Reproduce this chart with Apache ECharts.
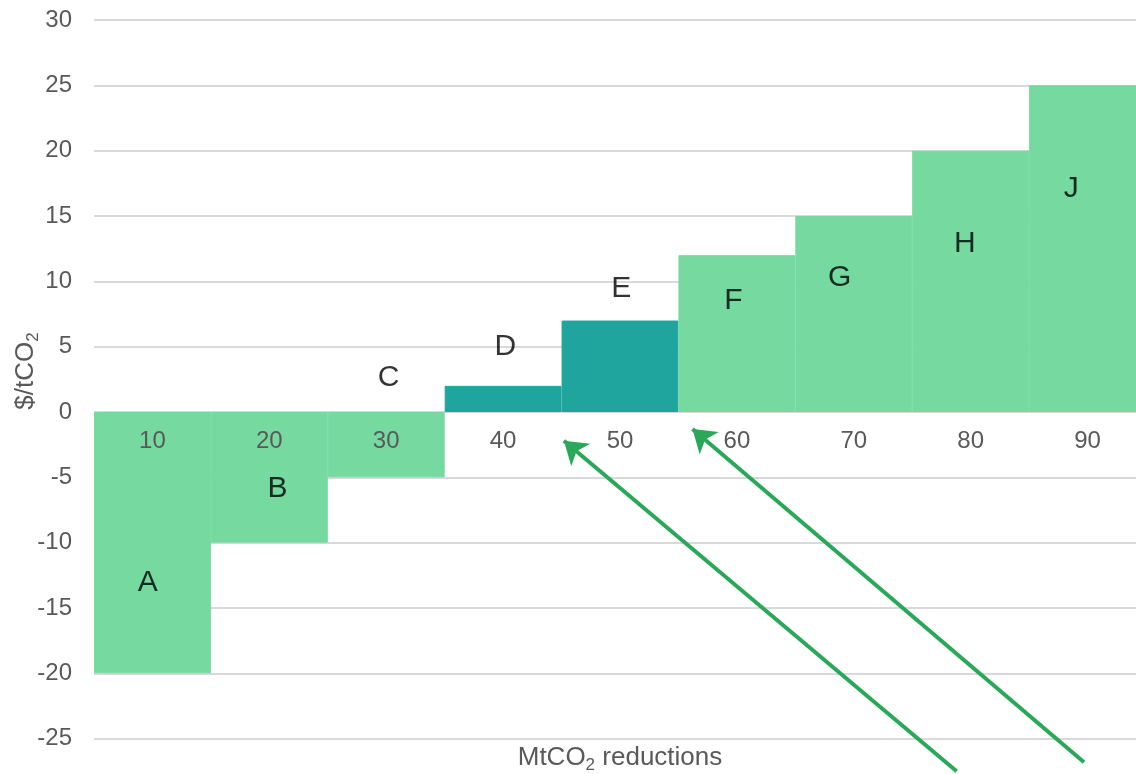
<!DOCTYPE html>
<html>
<head>
<meta charset="utf-8">
<script src="https://cdn.jsdelivr.net/npm/echarts@6/dist/echarts.min.js"></script>
<style>
  html, body { margin: 0; padding: 0; background: #ffffff; }
  #chart { width: 1136px; height: 774px; }
</style>
</head>
<body>
<div id="chart"></div>
<script>
// Abatement cost steps: one 10 MtCO2 block per measure
const categories = ['10', '20', '30', '40', '50', '60', '70', '80', '90'];
const costs = [-20, -10, -5, 2, 7, 12, 15, 20, 25];
const highlighted = [false, false, false, true, true, false, false, false, false];

// Measure letters, placed on the continuous MtCO2 scale
const letterNames = ['A', 'B', 'C', 'D', 'E', 'F', 'G', 'H', 'J'];
const letterX = [9.6, 20.7, 30.2, 40.2, 50.1, 59.7, 68.8, 79.5, 88.6];
const letterY = [-13.1, -5.9, 2.6, 5.0, 9.4, 8.5, 10.3, 12.9, 17.1];

// Pointer arrows: [startX, startY, tipX, tipY] in MtCO2 / $ units
const arrows = [
  [78.8, -27.5, 45.2, -2.2],
  [89.7, -26.8, 56.2, -1.3]
];

const yTicks = { min: -30, max: 30, step: 5 };

const LIGHT = '#75d9a0';
const DARK = '#20a59e';
const ARROW = '#2aa85a';
const FONT = 'Liberation Sans, Arial, sans-serif';

const GRID = { left: 94, right: -10, top: 20, bottom: -30 };
const CHART_H = 774;

const chart = echarts.init(document.getElementById('chart'), null, { renderer: 'canvas' });

// Pixel distance from the bottom of the plot up to the zero line, so the
// category labels sit just under y = 0
const plotH = CHART_H - GRID.top - GRID.bottom;
const zeroOffset = plotH * (0 - yTicks.min) / (yTicks.max - yTicks.min);

chart.setOption({
  animation: false,
  backgroundColor: '#ffffff',
  grid: Object.assign({ containLabel: false, outerBoundsMode: 'none' }, GRID),
  xAxis: [
    {
      type: 'category',
      data: categories,
      boundaryGap: true,
      position: 'bottom',
      offset: -zeroOffset,
      axisLine: { show: false, onZero: false },
      axisTick: { show: false },
      axisLabel: { color: '#595959', fontSize: 24, fontFamily: FONT, margin: 17 },
      splitLine: { show: false },
      z: 10
    },
    {
      type: 'value',
      min: 5,
      max: 95,
      show: false
    }
  ],
  yAxis: {
    type: 'value',
    min: yTicks.min,
    max: yTicks.max,
    interval: yTicks.step,
    axisLine: { show: false },
    axisTick: { show: false },
    axisLabel: { color: '#595959', fontSize: 24, fontFamily: FONT, margin: 22 },
    splitLine: { show: true, lineStyle: { color: '#d9d9d9', width: 2 } }
  },
  graphic: [
    {
      type: 'text',
      x: 620,
      y: 758,
      style: {
        text: '{m|MtCO}{s|2}{m| reductions}',
        align: 'center',
        verticalAlign: 'middle',
        rich: {
          m: { fontSize: 26, fontFamily: FONT, fill: '#595959' },
          s: { fontSize: 17, fontFamily: FONT, fill: '#595959', padding: [14, 0, 0, 0] }
        }
      }
    },
    {
      type: 'text',
      x: 26,
      y: 371,
      rotation: Math.PI / 2,
      style: {
        text: '{m|$/tCO}{s|2}',
        align: 'center',
        verticalAlign: 'middle',
        rich: {
          m: { fontSize: 26, fontFamily: FONT, fill: '#595959' },
          s: { fontSize: 17, fontFamily: FONT, fill: '#595959', padding: [14, 0, 0, 0] }
        }
      }
    }
  ],
  series: [
    {
      type: 'bar',
      data: costs.map((v, i) => {
        const c = highlighted[i] ? DARK : LIGHT;
        return { value: v, itemStyle: { color: c, borderColor: c, borderWidth: 1 } };
      }),
      barWidth: '100%',
      barCategoryGap: 0,
      z: 2
    },
    {
      type: 'scatter',
      xAxisIndex: 1,
      symbolSize: 0,
      data: letterNames.map((n, i) => ({ value: [letterX[i], letterY[i]], name: n })),
      label: {
        show: true,
        position: 'inside',
        formatter: '{b}',
        color: '#000000',
        fontSize: 30,
        fontFamily: FONT
      },
      z: 5
    },
    {
      type: 'line',
      xAxisIndex: 1,
      data: [],
      markLine: {
        silent: true,
        animation: false,
        label: { show: false },
        lineStyle: { color: ARROW, width: 4, type: 'solid' },
        data: arrows.map(a => [
          { coord: [a[0], a[1]], symbol: 'none' },
          { coord: [a[2], a[3]], symbol: 'arrow', symbolSize: 22 }
        ])
      },
      z: 6
    }
  ]
});
</script>
</body>
</html>
